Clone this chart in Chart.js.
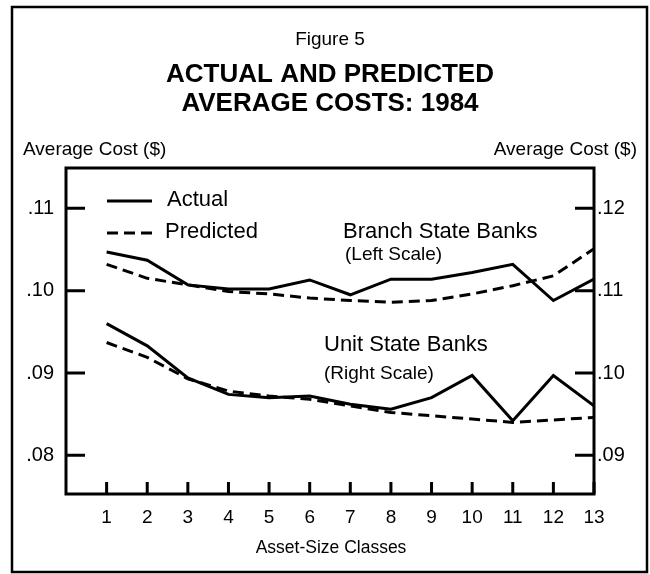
<!DOCTYPE html>
<html>
<head>
<meta charset="utf-8">
<script src="https://cdn.jsdelivr.net/npm/chart.js@4/dist/chart.umd.min.js"></script>
<style>
  html, body { margin: 0; padding: 0; background: #fff; }
  #wrap { width: 650px; height: 574px; }
</style>
</head>
<body>
<div id="wrap"><canvas id="costChart" width="650" height="574"></canvas></div>
<script>
// Asset-size classes (x axis)
const sizeClasses = [1, 2, 3, 4, 5, 6, 7, 8, 9, 10, 11, 12, 13];

// Branch State Banks -> left scale
const branchActual    = [.1047, .1037, .1007, .1002, .1002, .1013, .0995, .1014, .1014, .1022, .1032, .0988, .1014];
const branchPredicted = [.1032, .1015, .1007, .0999, .0996, .0991, .0988, .0986, .0988, .0996, .1006, .1018, .1051];

// Unit State Banks -> right scale
const unitActual    = [.1060, .1033, .0994, .0974, .0970, .0972, .0962, .0956, .0970, .0997, .0942, .0997, .0960];
const unitPredicted = [.1037, .1019, .0993, .0978, .0972, .0968, .0960, .0952, .0948, .0944, .0940, .0943, .0946];

// tick values + labels
const leftTicks = [.08, .09, .10, .11];
const leftTickLabels = ['.08', '.09', '.10', '.11'];
const rightTicks = [.09, .10, .11, .12];
const rightTickLabels = ['.09', '.10', '.11', '.12'];

const FONT = '"Liberation Sans", Arial, sans-serif';

function toPoints(arr) {
  return arr.map((v, i) => ({ x: sizeClasses[i], y: v }));
}

function line(label, arr, axis, dashed) {
  return {
    label: label,
    data: toPoints(arr),
    yAxisID: axis,
    borderColor: '#000',
    borderWidth: 3,
    borderDash: dashed ? [11, 6] : [],
    pointRadius: 0,
    tension: 0,
    fill: false
  };
}

// draws frame, box, inward ticks and all the loose text
const decorPlugin = {
  id: 'decor',
  beforeDraw(chart) {
    const c = chart.ctx;
    c.save();
    c.fillStyle = '#fff';
    c.fillRect(0, 0, chart.width, chart.height);
    c.restore();
  },
  afterDraw(chart) {
    const c = chart.ctx;
    const a = chart.chartArea;
    const sx = chart.scales.x, yl = chart.scales.yL, yr = chart.scales.yR;
    c.save();
    c.strokeStyle = '#000';
    c.fillStyle = '#000';

    // outer frame
    c.lineWidth = 2.5;
    c.strokeRect(12, 7, 635, 565);

    // plot box
    c.lineWidth = 3;
    c.strokeRect(a.left, a.top, a.right - a.left, a.bottom - a.top);

    // inward tick marks
    c.lineWidth = 3;
    c.beginPath();
    leftTicks.forEach(v => {
      const y = yl.getPixelForValue(v);
      c.moveTo(a.left, y); c.lineTo(a.left + 19, y);
    });
    rightTicks.forEach(v => {
      const y = yr.getPixelForValue(v);
      c.moveTo(a.right, y); c.lineTo(a.right - 19, y);
    });
    sizeClasses.forEach(v => {
      const x = sx.getPixelForValue(v);
      c.moveTo(x, a.bottom); c.lineTo(x, a.bottom - 12);
    });
    c.stroke();

    // titles
    c.textBaseline = 'middle';
    c.textAlign = 'center';
    c.font = '19px ' + FONT;
    c.fillText('Figure 5', 330, 40);
    c.font = 'bold 26px ' + FONT;
    c.fillText('ACTUAL AND PREDICTED', 330, 75);
    c.fillText('AVERAGE COSTS: 1984', 330, 104);

    c.font = '17.5px ' + FONT;
    c.fillText('Asset-Size Classes', 331, 548);

    c.font = '19px ' + FONT;
    c.textAlign = 'left';
    c.fillText('Average Cost ($)', 23, 150);
    c.textAlign = 'right';
    c.fillText('Average Cost ($)', 637, 150);

    // legend
    c.textAlign = 'left';
    c.lineWidth = 3;
    c.beginPath();
    c.moveTo(107, 201); c.lineTo(152, 201);
    c.stroke();
    c.setLineDash([11, 6]);
    c.beginPath();
    c.moveTo(107, 233); c.lineTo(152, 233);
    c.stroke();
    c.setLineDash([]);
    c.font = '22px ' + FONT;
    c.fillText('Actual', 167, 200);
    c.fillText('Predicted', 165, 232);

    // series notes
    c.fillText('Branch State Banks', 343, 232);
    c.fillText('Unit State Banks', 324, 345);
    c.font = '19px ' + FONT;
    c.fillText('(Left Scale)', 345, 255);
    c.fillText('(Right Scale)', 324, 374);
    c.restore();
  }
};

const ctx = document.getElementById('costChart').getContext('2d');
new Chart(ctx, {
  type: 'line',
  data: {
    datasets: [
      line('Branch Actual', branchActual, 'yL', false),
      line('Branch Predicted', branchPredicted, 'yL', true),
      line('Unit Actual', unitActual, 'yR', false),
      line('Unit Predicted', unitPredicted, 'yR', true)
    ]
  },
  options: {
    responsive: false,
    animation: false,
    events: [],
    layout: { padding: { top: 168, left: 0, right: 0, bottom: 0 } },
    plugins: { legend: { display: false }, title: { display: false }, tooltip: { enabled: false } },
    scales: {
      x: {
        type: 'linear',
        min: 0,
        max: 13,
        afterBuildTicks: s => { s.ticks = sizeClasses.map(v => ({ value: v })); },
        afterFit: s => { s.height = 80; },
        grid: { display: false, drawTicks: false },
        border: { display: false },
        ticks: {
          color: '#000',
          font: { family: FONT, size: 19 },
          padding: 12,
          maxRotation: 0,
          autoSkip: false,
          callback: v => String(v)
        }
      },
      yL: {
        type: 'linear',
        position: 'left',
        min: .0753,
        max: .1149,
        afterBuildTicks: s => { s.ticks = leftTicks.map(v => ({ value: v })); },
        afterFit: s => { s.width = 66; },
        grid: { display: false, drawTicks: false },
        border: { display: false },
        ticks: {
          color: '#000',
          font: { family: FONT, size: 20 },
          padding: 12,
          callback: (v, i) => leftTickLabels[i]
        }
      },
      yR: {
        type: 'linear',
        position: 'right',
        min: .0853,
        max: .1249,
        afterBuildTicks: s => { s.ticks = rightTicks.map(v => ({ value: v })); },
        afterFit: s => { s.width = 56; },
        grid: { display: false, drawTicks: false },
        border: { display: false },
        ticks: {
          color: '#000',
          font: { family: FONT, size: 20 },
          padding: 3,
          callback: (v, i) => rightTickLabels[i]
        }
      }
    }
  },
  plugins: [decorPlugin]
});
</script>
</body>
</html>
